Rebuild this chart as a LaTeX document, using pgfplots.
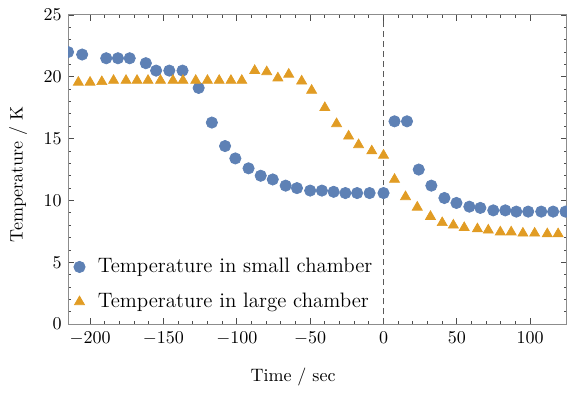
\documentclass[border=0pt]{standalone}
\usepackage{pgfplots}
\pgfplotsset{compat=1.18}
\definecolor{mblue}{HTML}{5E81B5}
\definecolor{morange}{HTML}{E19C24}
\begin{document}
\begin{tikzpicture}
\begin{axis}[
  scale only axis,
  width=277pt, height=171.7pt,
  xmin=-215, xmax=125, ymin=0, ymax=25,
  xtick={-200,-150,...,100}, ytick={0,5,...,25},
  minor x tick num=4, minor y tick num=4,
  tick align=inside, tick pos=both,
  xticklabel pos=lower, yticklabel pos=left,
  major tick length=3.2pt, minor tick length=1.9pt,
  every tick/.style={black!70, line width=0.5pt},
  axis line style={black!45, line width=0.6pt},
  tick label style={font=\fontsize{10.4}{12}\selectfont},
  xticklabel style={yshift=-1pt},
  xlabel={Time / sec}, ylabel={Temperature / K},
  label style={font=\fontsize{10}{12}\selectfont},
  xlabel style={at={(axis description cs:0.451,-0.171)}, anchor=center},
  ylabel style={at={(axis description cs:-0.100,0.485)}, anchor=center, rotate=0},
  clip marker paths=true,
  legend style={draw=none, fill=none, font=\fontsize{11.6}{13}\selectfont,
    at={(axis description cs:0.0,0.02)}, anchor=south west,
    row sep=5.8pt, column sep=5pt, cells={anchor=west}},
  legend cell align=left,
]
\addplot[forget plot, black!65, line width=0.6pt, dash pattern=on 3.3pt off 2.2pt] coordinates {(0,0) (0,25)};
\addplot[only marks, mark=*, mark size=3.15pt, mark options={draw=mblue, fill=mblue}] coordinates {
(-215,22.0) (-205.4,21.8) (-189,21.5) (-181,21.5) (-173,21.5) (-162,21.1) (-155,20.5) (-146,20.5) (-137,20.5)
(-126,19.1) (-117,16.3) (-108,14.4) (-101,13.4) (-92,12.6) (-83.7,12.0) (-75.5,11.7) (-66.7,11.2) (-59,11.0)
(-50,10.8) (-42,10.8) (-34,10.7) (-26,10.6) (-18,10.6) (-9.5,10.6) (0,10.6)
(7.5,16.4) (16,16.4) (24,12.5) (32.6,11.2) (41.5,10.2) (49.7,9.8) (58.5,9.5) (66,9.4) (74.8,9.2)
(83,9.2) (90.5,9.1) (98.6,9.1) (107.5,9.1) (115.6,9.1) (124,9.1)
};
\addlegendentry{Temperature in small chamber}
\addplot[only marks, mark=triangle*, mark size=3.2pt, mark options={draw=morange, fill=morange}] coordinates {
(-215.6,19.5) (-208,19.55) (-200,19.55) (-192,19.6) (-184,19.7) (-175.5,19.7) (-168,19.7) (-160.5,19.7)
(-152,19.7) (-143.5,19.7) (-136.7,19.7) (-128,19.7) (-120,19.7) (-112,19.7) (-104,19.7) (-96.6,19.7)
(-87.8,20.5) (-79.6,20.4) (-72,19.9) (-64.6,20.2) (-55.8,19.65) (-49,18.9) (-40,17.5) (-32,16.2)
(-23.8,15.2) (-17,14.5) (-8,14.0) (0,13.65) (7.5,11.7) (15,10.3) (23,9.45) (32,8.7) (40,8.2)
(47.6,8.0) (55,7.8) (64,7.7) (71.4,7.6) (79.6,7.45) (87,7.45) (95,7.35) (103,7.35) (111.6,7.3) (119,7.3)
};
\addlegendentry{Temperature in large chamber}
\end{axis}
\pgfresetboundingbox
\path[use as bounding box] ([shift={(-37.8pt,-37.8pt)}]current axis.south west) rectangle ([shift={(0.6pt,8.3pt)}]current axis.north east);
\end{tikzpicture}
\end{document}
